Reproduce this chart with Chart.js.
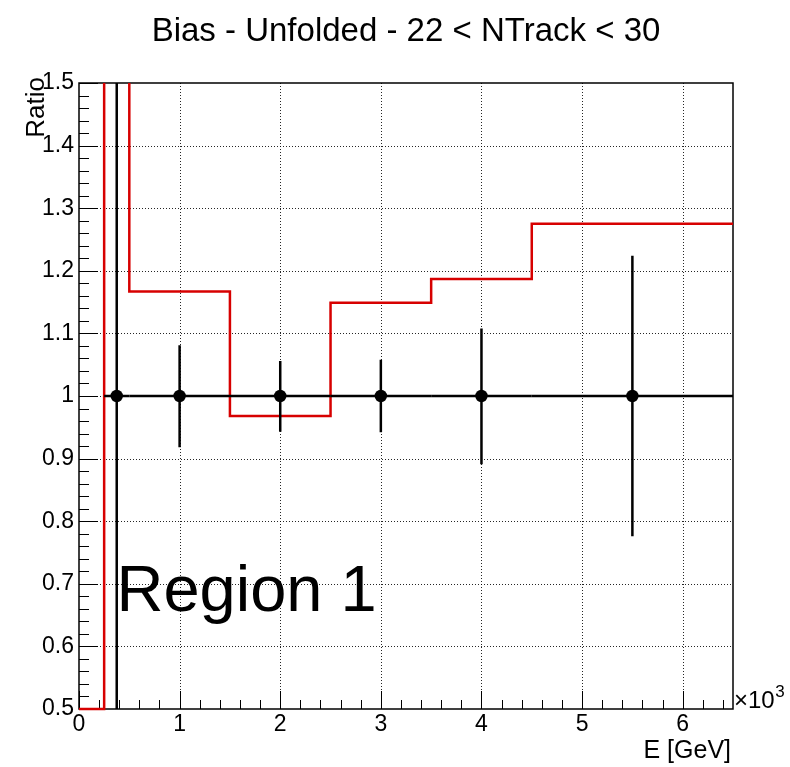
<!DOCTYPE html>
<html><head><meta charset="utf-8">
<script src="https://cdn.jsdelivr.net/npm/chart.js@4/dist/chart.umd.min.js"></script>
<style>html,body{margin:0;padding:0;background:#fff;} canvas{display:block;}</style>
</head><body>
<canvas id="c" width="790" height="767"></canvas>
<script>
// ---- data ----
const binEdges = [0, 0.25, 0.5, 1.5, 2.5, 3.5, 4.5, 6.5];
const redValues = [0.5, 1.6, 1.167, 0.968, 1.149, 1.187, 1.275];
const pointX = [0.375, 1, 2, 3, 4, 5.5];
const pointY = [1, 1, 1, 1, 1, 1];
const pointXLow = [0.25, 0.5, 1.5, 2.5, 3.5, 4.5];
const pointXHigh = [0.5, 1.5, 2.5, 3.5, 4.5, 6.5];
const pointErrUp = [0.7, 0.081, 0.056, 0.058, 0.108, 0.224];
const pointErrDown = [0.7, 0.082, 0.057, 0.058, 0.109, 0.224];
const xTickValues = [0, 1, 2, 3, 4, 5, 6];
const xTickLabels = ['0', '1', '2', '3', '4', '5', '6'];
const yTickValues = [0.5, 0.6, 0.7, 0.8, 0.9, 1.0, 1.1, 1.2, 1.3, 1.4, 1.5];
const yTickLabels = ['0.5', '0.6', '0.7', '0.8', '0.9', '1', '1.1', '1.2', '1.3', '1.4', '1.5'];
const titleText = 'Bias - Unfolded - 22 < NTrack < 30';
const xTitle = 'E [GeV]';
const yTitle = 'Ratio';
const regionText = 'Region 1';

const FONT = "'Liberation Sans', Arial, Helvetica, sans-serif";
const RED = 'rgb(215,0,0)';

const redData = binEdges.map((e, i) => ({ x: e, y: i < redValues.length ? redValues[i] : redValues[redValues.length - 1] }));
const pointData = pointX.map((x, i) => ({ x: x, y: pointY[i] }));

function labelFor(values, labels, v) {
  for (let i = 0; i < values.length; i++) if (Math.abs(values[i] - v) < 1e-6) return labels[i];
  return '';
}

const rootPlugin = {
  id: 'rootStyle',
  beforeDatasetsDraw(chart) {
    const { ctx, chartArea: a, scales: { x, y } } = chart;
    ctx.save();
    ctx.strokeStyle = 'rgba(0,0,0,0.85)';
    ctx.lineWidth = 1;
    ctx.setLineDash([1, 2]);
    xTickValues.forEach(v => {
      if (v <= x.min || v >= x.max) return;
      const px = Math.round(x.getPixelForValue(v)) + 0.5;
      ctx.beginPath(); ctx.moveTo(px, a.top); ctx.lineTo(px, a.bottom); ctx.stroke();
    });
    yTickValues.forEach(v => {
      if (v <= y.min + 1e-9 || v >= y.max - 1e-9) return;
      const py = Math.round(y.getPixelForValue(v)) + 0.5;
      ctx.beginPath(); ctx.moveTo(a.left, py); ctx.lineTo(a.right, py); ctx.stroke();
    });
    ctx.setLineDash([]);
    ctx.strokeStyle = '#000';
    ctx.lineWidth = 1;
    for (let k = 0; k <= 50; k++) {
      const v = 0.5 + k * 0.02;
      const py = Math.round(y.getPixelForValue(v)) + 0.5;
      const len = (k % 5 === 0) ? 19 : 10;
      ctx.beginPath(); ctx.moveTo(a.left, py); ctx.lineTo(a.left + len, py); ctx.stroke();
    }
    for (let k = 0; k <= 32; k++) {
      const v = k * 0.2;
      const px = Math.round(x.getPixelForValue(v)) + 0.5;
      const len = (k % 5 === 0) ? 18 : 9;
      ctx.beginPath(); ctx.moveTo(px, a.bottom); ctx.lineTo(px, a.bottom - len); ctx.stroke();
    }
    ctx.lineWidth = 1.5;
    ctx.strokeRect(a.left, a.top, a.right - a.left, a.bottom - a.top);
    ctx.restore();
  },
  afterDatasetDraw(chart, args) {
    if (args.index !== 0) return;
    const { ctx, chartArea: a, scales: { x, y } } = chart;
    ctx.save();
    ctx.beginPath(); ctx.rect(a.left, a.top, a.right - a.left, a.bottom - a.top); ctx.clip();
    ctx.strokeStyle = '#000';
    ctx.lineWidth = 2.5;
    pointX.forEach((px, i) => {
      const cy = y.getPixelForValue(pointY[i]);
      const cx = x.getPixelForValue(px);
      ctx.beginPath();
      ctx.moveTo(x.getPixelForValue(pointXLow[i]), cy);
      ctx.lineTo(x.getPixelForValue(pointXHigh[i]), cy);
      ctx.moveTo(cx, y.getPixelForValue(pointY[i] + pointErrUp[i]));
      ctx.lineTo(cx, y.getPixelForValue(pointY[i] - pointErrDown[i]));
      ctx.stroke();
    });
    ctx.restore();
  },
  afterDraw(chart) {
    const { ctx } = chart;
    ctx.save();
    ctx.fillStyle = '#000';
    ctx.textBaseline = 'alphabetic';
    ctx.font = '33px ' + FONT;
    ctx.textAlign = 'center';
    ctx.fillText(titleText, 406, 41);
    ctx.font = '25px ' + FONT;
    ctx.textAlign = 'right';
    ctx.fillText(xTitle, 731, 758);
    ctx.save();
    ctx.translate(44, 77);
    ctx.rotate(-Math.PI / 2);
    ctx.textAlign = 'right';
    ctx.font = '26px ' + FONT;
    ctx.fillText(yTitle, 0, 0);
    ctx.restore();
    ctx.textAlign = 'left';
    ctx.font = '24px ' + FONT;
    ctx.fillText('\u00d710', 734, 708);
    const w = ctx.measureText('\u00d710').width;
    ctx.font = '17px ' + FONT;
    ctx.fillText('3', 734 + w + 0.5, 697);
    ctx.font = '65px ' + FONT;
    ctx.fillText(regionText, 116.5, 611);
    ctx.restore();
  }
};

new Chart(document.getElementById('c'), {
  type: 'scatter',
  data: {
    datasets: [
      {
        type: 'line',
        data: redData,
        stepped: 'before',
        borderColor: RED,
        borderWidth: 2.5,
        pointRadius: 0,
        fill: false,
        tension: 0,
        order: 1,
        clip: { left: 2, right: 2, top: 0, bottom: 2 }
      },
      {
        type: 'scatter',
        data: pointData,
        pointRadius: 6.2,
        pointBackgroundColor: '#000',
        pointBorderWidth: 0,
        showLine: false,
        order: 0
      }
    ]
  },
  plugins: [rootPlugin],
  options: {
    responsive: false,
    animation: false,
    events: [],
    layout: { padding: { left: 0, right: 57, top: 83, bottom: 0 } },
    plugins: { legend: { display: false }, title: { display: false }, tooltip: { enabled: false } },
    scales: {
      x: {
        type: 'linear', min: 0, max: 6.5,
        grid: { display: false, drawTicks: false },
        border: { display: false },
        afterBuildTicks(s) { s.ticks = xTickValues.map(v => ({ value: v })); },
        afterFit(s) { s.height = 58; },
        ticks: {
          includeBounds: false, autoSkip: false, maxRotation: 0, padding: 2,
          color: '#000', font: { family: FONT, size: 23 },
          callback: v => labelFor(xTickValues, xTickLabels, v)
        }
      },
      y: {
        type: 'linear', min: 0.5, max: 1.5,
        grid: { display: false, drawTicks: false },
        border: { display: false },
        afterBuildTicks(s) { s.ticks = yTickValues.map(v => ({ value: v })); },
        afterFit(s) { s.width = 79; },
        ticks: {
          includeBounds: false, autoSkip: false, padding: 5,
          color: '#000', font: { family: FONT, size: 23 },
          callback: v => labelFor(yTickValues, yTickLabels, v)
        }
      }
    }
  }
});
</script>
</body></html>
